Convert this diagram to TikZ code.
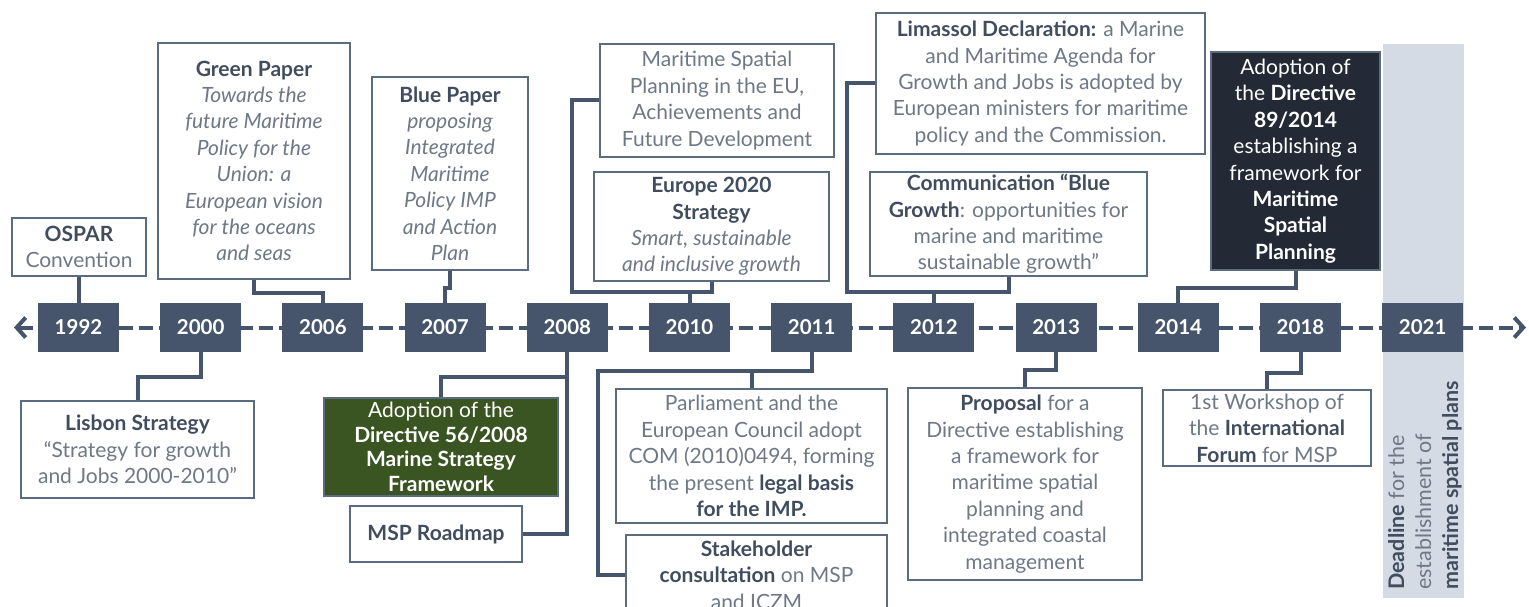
\documentclass[tikz,border=0pt]{standalone}
\usepackage{fontspec}
\setmainfont{Lato}
\usetikzlibrary{arrows.meta}
\definecolor{navy}{HTML}{46556B}
\definecolor{boxc}{HTML}{5B6B80}
\definecolor{txt}{HTML}{6E7886}
\definecolor{txtb}{HTML}{414D5F}
\definecolor{mossgreen}{HTML}{3A5422}
\definecolor{darkbox}{HTML}{232A36}
\definecolor{band}{HTML}{D5DBE5}
\newcommand\hb[1]{{\bfseries\color{txtb}#1}}
\begin{document}
\begin{tikzpicture}[x=1pt,y=-1pt,
  yr/.style={fill=navy, text=white, font=\fontsize{20.5}{24}\selectfont\bfseries, minimum width=81pt, minimum height=49pt, inner sep=0pt},
  box/.style={draw=boxc, line width=1.5pt, fill=white, text=txt, align=center, inner sep=0pt, font=\fontsize{21}{26.4}\selectfont},
  conn/.style={draw=navy, line width=4pt},
  timeline/.style={draw=navy, line width=4pt, dash pattern=on 14pt off 6pt},
]
\useasboundingbox (0,0) rectangle (1529,607);
\clip (0,0) rectangle (1529,607);
\fill[white] (0,0) rectangle (1529,607);
% deadline band
\fill[band] (1383,44) rectangle (1464,598);
% timeline
\coordinate (tl) at (14,327.5);
\coordinate (tr) at (1526,327.5);
\draw[timeline, {Straight Barb[length=9pt,width=20pt]}-{Straight Barb[length=9pt,width=20pt]}] (tl) -- (tr);
% year boxes
\foreach \yy [count=\i from 0] in {1992,2000,2006,2007,2008,2010,2011,2012,2013,2014,2018,2021}
  \node[yr] (y\yy) at ({78.5+122.2*\i},327.5) {\yy};

% boxes above
\node[box, minimum width=134pt, minimum height=58pt] (ospar) at (79,247) {\hb{OSPAR}\\Convention};
\node[box, minimum width=192pt, minimum height=236pt] (green) at (254,161) {\hb{Green Paper}\\\itshape Towards the\\\itshape future Maritime\\\itshape Policy for the\\\itshape Union: a\\\itshape European vision\\\itshape for the oceans\\\itshape and seas};
\node[box, minimum width=156pt, minimum height=193pt] (blue) at (450,173.5) {\hb{Blue Paper}\\\itshape proposing\\\itshape Integrated\\\itshape Maritime\\\itshape Policy IMP\\\itshape and Action\\\itshape Plan};
\node[box, minimum width=234pt, minimum height=113pt] (mspeu) at (717,100.5) {Maritime Spatial\\Planning in the EU,\\Achievements and\\Future Development};
\node[box, minimum width=235pt, minimum height=109pt] (europe) at (711.5,226.5) {\hb{Europe 2020}\\\hb{Strategy}\\\itshape Smart, sustainable\\\itshape and inclusive growth};
\node[box, minimum width=329pt, minimum height=141pt] (limassol) at (1040.5,83.5) {\hb{Limassol Declaration:} a Marine\\and Maritime Agenda for\\Growth and Jobs is adopted by\\European ministers for maritime\\policy and the Commission.};
\node[box, minimum width=277pt, minimum height=104pt] (bgrowth) at (1008.5,224) {\hb{Communication “Blue}\\\hb{Growth}: opportunities for\\marine and maritime\\sustainable growth”};
\node[box, fill=darkbox, text=white, minimum width=169pt, minimum height=218pt] (dir14) at (1295.5,161) {Adoption of\\the \textbf{Directive}\\\textbf{89/2014}\\establishing a\\framework for\\\textbf{Maritime}\\\textbf{Spatial}\\\textbf{Planning}};

% boxes below
\node[box, minimum width=233pt, minimum height=97pt] (lisbon) at (137.5,449.5) {\hb{Lisbon Strategy}\\“Strategy for growth\\and Jobs 2000-2010”};
\node[box, fill=mossgreen, text=white, minimum width=234pt, minimum height=98pt, font=\fontsize{21}{24.5}\selectfont] (dir08) at (441,447) {Adoption of the\\\textbf{Directive 56/2008}\\\textbf{Marine Strategy}\\\textbf{Framework}};
\node[box, minimum width=172pt, minimum height=56pt] (msp) at (436,534) {\hb{MSP Roadmap}};
\node[box, minimum width=271pt, minimum height=134pt] (parl) at (751.5,456) {Parliament and the\\European Council adopt\\COM (2010)0494, forming\\the present \hb{legal basis}\\\hb{for the IMP.}};
\node[box, minimum width=261pt, minimum height=80pt] (stake) at (756.5,575) {\hb{Stakeholder}\\\hb{consultation} on MSP\\and ICZM};
\node[box, minimum width=234pt, minimum height=192pt] (proposal) at (1025,484) {\hb{Proposal} for a\\Directive establishing\\a framework for\\maritime spatial\\planning and\\integrated coastal\\management};
\node[box, minimum width=208pt, minimum height=76pt] (workshop) at (1267,428) {1st Workshop of\\the \hb{International}\\\hb{Forum} for MSP};

% deadline text
\node[rotate=90, anchor=north west, align=left, text=txt, inner sep=0pt, font=\fontsize{21.5}{27}\selectfont] (deadline) at (1388,590) {\hb{Deadline} for the\\establishment of\\\hb{maritime spatial plans}};

% connectors
\draw[conn] (y1992.north) -- (y1992.north |- ospar.south);
\draw[conn] (green.south) -- ++(0,13) -| (y2006.north);
\draw[conn] (blue.south) -- ++(0,17) -| (y2007.north);
\draw[conn] (y2000.south) -- ++(0,25) -| (lisbon.north);
\draw[conn] (y2008.south) -- ++(0,25) -| (dir08.north);
\draw[conn] (y2008.south) |- (msp.east);
\coordinate (j2010) at ([yshift=11pt]y2010.north);
\draw[conn] (mspeu.west) -- ++(-27,0) |- (j2010) -- (y2010.north);
\draw[conn] (europe.south) -- (europe.south |- j2010) -- (j2010);
\coordinate (j2011) at ([yshift=-19pt]y2011.south);
\draw[conn] (y2011.south) -- (j2011) -| (parl.north);
\draw[conn] (j2011) -- ++(-214,0) |- (stake.west);
\coordinate (j2012) at ([yshift=11pt]y2012.north);
\draw[conn] (limassol.west) -- ++(-28,0) |- (j2012) -- (y2012.north);
\draw[conn] (bgrowth.south) |- (j2012);
\draw[conn] (y2013.south) -- ++(0,18) -| (proposal.north);
\draw[conn] (dir14.south) -- ++(0,17) -| (y2014.north);
\draw[conn] (y2018.south) -- ++(0,21) -| (workshop.north);
\end{tikzpicture}
\end{document}
